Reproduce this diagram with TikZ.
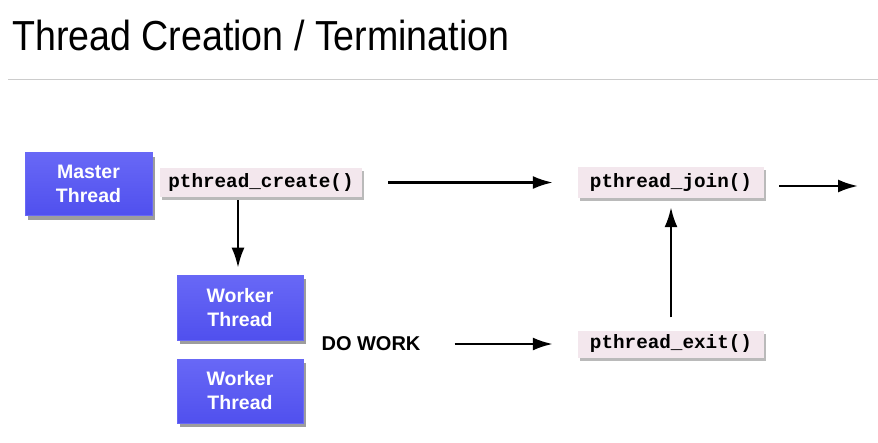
\documentclass[tikz,border=0pt]{standalone}
\usepackage{fontspec}
\setmainfont{Liberation Sans}
\newfontfamily\titlefont{Liberation Sans}
\newfontfamily\codefont{Liberation Mono}
\usetikzlibrary{arrows.meta,shadows}
\definecolor{threadblue}{HTML}{5050EE}
\definecolor{threadblueT}{HTML}{6868F6}
\definecolor{codepink}{HTML}{F3E7ED}
\tikzset{
  threadbox/.style={draw=threadblueT, line width=0.6pt, top color=threadblueT, bottom color=threadblue,
    text=white, font=\bfseries\fontsize{19.5}{24}\selectfont, align=center, inner sep=0pt,
    drop shadow={shadow xshift=3pt, shadow yshift=-4pt, opacity=0.55, fill=black!70}},
  codebox/.style={fill=codepink, inner sep=0pt, font=\codefont\bfseries\fontsize{19.3}{22}\selectfont,
    drop shadow={shadow xshift=2pt, shadow yshift=-3pt, opacity=0.45, fill=black!60}},
  flow/.style={line width=2.4pt, -{Latex[length=20pt,width=13pt]}},
  worklabel/.style={font=\bfseries\fontsize{20}{22}\selectfont, inner sep=0pt},
}
\begin{document}
\begin{tikzpicture}[x=1pt,y=-1pt]
\useasboundingbox (0,0) rectangle (878,442);
\node[anchor=base west, inner sep=0pt, xscale=0.895, transform shape, font=\titlefont\fontsize{42}{50}\selectfont] (title) at (12,50) {Thread Creation / Termination};
\draw[black!20, line width=1pt] (8,79) coordinate (rulel) -- (878,79) coordinate (ruler);

\node[threadbox, minimum width=127pt, minimum height=63pt] (master) at (88.5,184) {Master\\Thread};
\node[codebox, minimum width=202pt, minimum height=29pt] (create) at (261,182.5) {pthread\_create()};
\node[codebox, minimum width=186pt, minimum height=31pt] (join) at (671,182.5) {pthread\_join()};
\node[codebox, minimum width=186pt, minimum height=27pt] (exit) at (671,344) {pthread\_exit()};
\node[threadbox, minimum width=126pt, minimum height=65pt] (worker1) at (240,307.5) {Worker\\Thread};
\node[threadbox, minimum width=126pt, minimum height=64pt] (worker2) at (240,391) {Worker\\Thread};
\node[worklabel] (dowork) at (371,344) {DO WORK};

\coordinate (out) at (858,186);
\draw[flow, shorten <=26pt, shorten >=25pt] (create.east) -- (join.west);
\draw[flow, shorten <=15pt] (join.east |- out) -- (out);
\draw[flow, shorten <=3pt, shorten >=7pt] ([xshift=-2pt]worker1.north |- create.south) -- ([xshift=-2pt]worker1.north);
\draw[flow, shorten <=13pt, shorten >=9pt] (exit.north) -- (join.south);
\draw[flow, shorten <=34pt, shorten >=25pt] (dowork.east) -- (exit.west);
\end{tikzpicture}
\end{document}
